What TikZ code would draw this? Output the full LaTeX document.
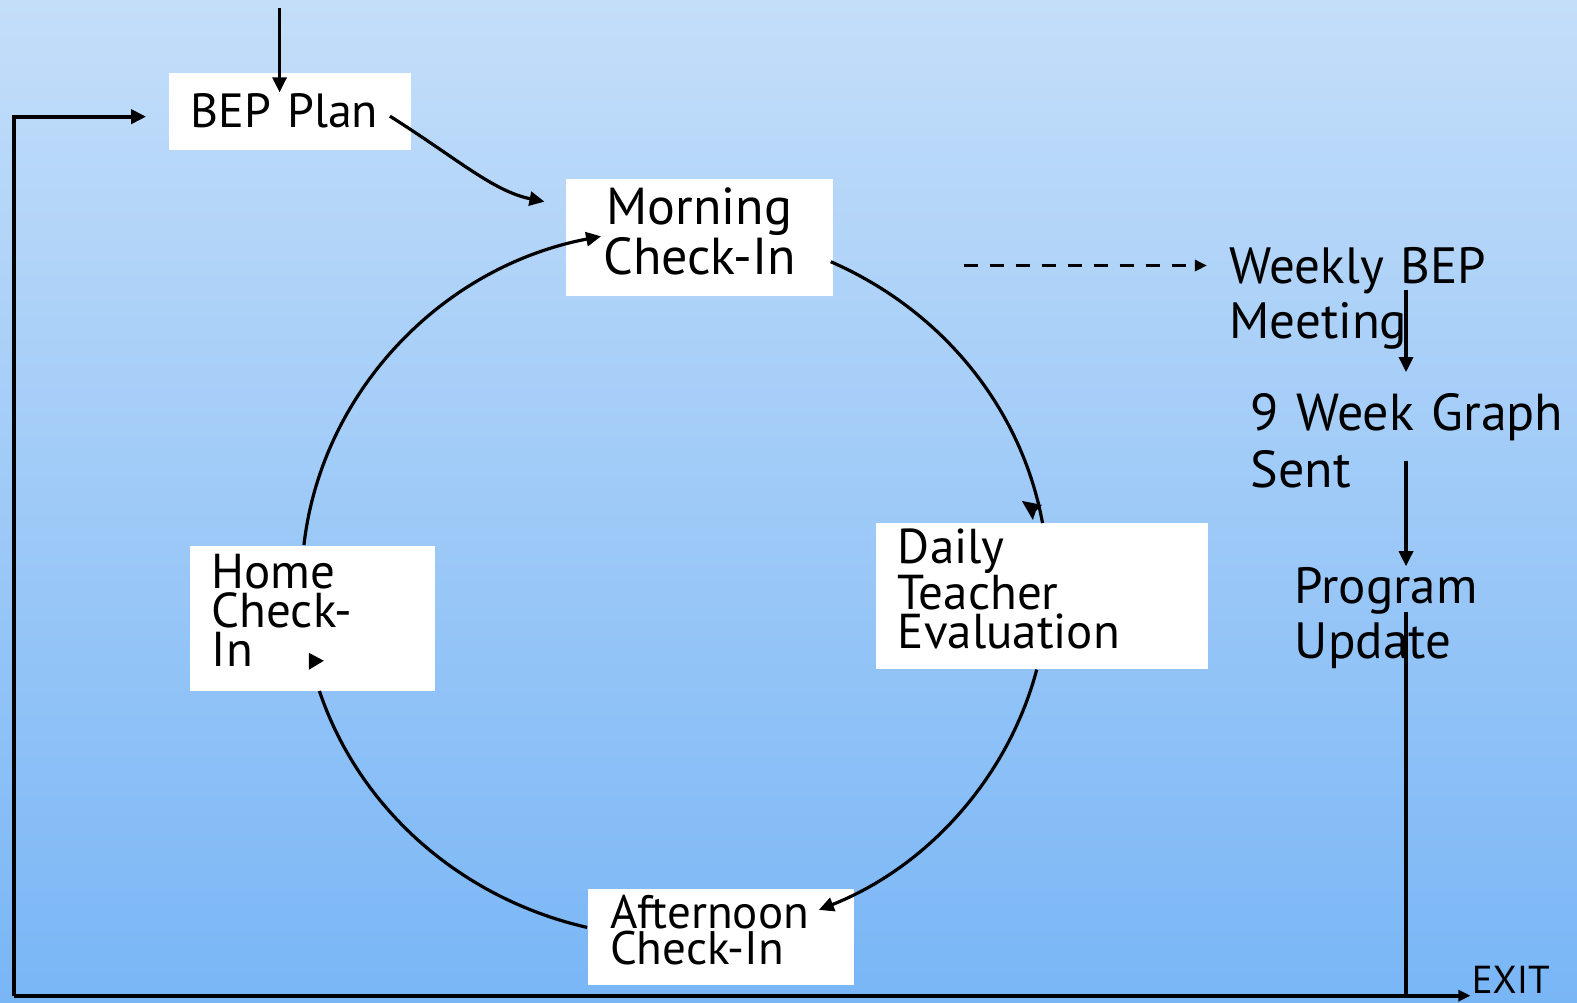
\documentclass[tikz,border=0pt]{standalone}
\usepackage{fontspec}
\setmainfont{PT Sans}
\usetikzlibrary{arrows.meta,calc}
\definecolor{skytop}{RGB}{196,222,249}
\definecolor{skybot}{RGB}{121,182,246}
% invisible strut that lifts a box's text block by #1
\newcommand{\liftby}[1]{\rule[-#1]{0pt}{0pt}}
\begin{document}
\begin{tikzpicture}[x=0.5029pt,y=-0.5029pt,
  flow/.style={line width=1.6pt},
  loop/.style={line width=1.9pt, line join=miter},
  tip/.style={-{Triangle[length=7.5pt,width=7pt]}},
  smalltip/.style={-{Triangle[length=6pt,width=5.5pt]}},
  box/.style={fill=white, inner sep=0pt, align=left},
  freelabel/.style={inner sep=0pt, align=left, anchor=base west, text width=170pt},
]
% background
\shade[top color=skytop, bottom color=skybot] (0,0) rectangle (1568,997);
\useasboundingbox (0,0) rectangle (1568,997);

% boxes
\node[box, minimum width=121pt, minimum height=38.5pt, text width=99pt,
      font=\fontsize{24}{21}\selectfont] (bep) at (288,110.5) {BEP Plan};
\node[box, align=center, minimum width=133.5pt, minimum height=58.5pt, text width=120pt,
      font=\fontsize{26}{21.5}\selectfont] (morning) at (695.5,236.5) {Morning\\Check-In\liftby{7pt}};
\node[box, minimum width=166pt, minimum height=73pt, text width=144pt,
      font=\fontsize{24.5}{19.5}\selectfont] (daily) at (1036,593) {Daily\\Teacher\\Evaluation\liftby{8pt}};
\node[box, minimum width=122.5pt, minimum height=72.5pt, text width=100.5pt,
      font=\fontsize{24.5}{19.5}\selectfont] (home) at (310.5,614.5) {Home\\Check-\\In\liftby{8pt}};
\node[box, minimum width=133pt, minimum height=48pt, text width=111pt,
      font=\fontsize{23.5}{17}\selectfont] (afternoon) at (717,932) {Afternoon\\Check-In\liftby{8pt}};

% free labels
\node[freelabel, font=\fontsize{25.5}{27.5}\selectfont] (weekly) at (1222,282) {Weekly BEP\\Meeting};
\node[freelabel, font=\fontsize{26}{28.5}\selectfont] (graph) at (1243,428) {9 Week Graph\\Sent};
\node[freelabel, font=\fontsize{25.5}{27.5}\selectfont] (program) at (1287,600) {Program\\Update};
\node[freelabel, font=\fontsize{19.5}{20}\selectfont] (exit) at (1463,988) {EXIT};

% cycle
\coordinate (c) at (671,580);
\draw[flow,tip] (c) ++(186.2:371 and 352) arc[start angle=186.2, end angle=258.6, x radius=371, y radius=352];
\draw[flow] (c) ++(294.7:371 and 352) arc[start angle=294.7, end angle=350.2, x radius=371, y radius=352];
\draw[flow,tip] (c) ++(14.1:371 and 352) arc[start angle=14.1, end angle=67.3, x radius=371, y radius=352];
\draw[flow] (c) ++(103.6:371 and 352) arc[start angle=103.6, end angle=162.3, x radius=371, y radius=352];

% loose arrow tips
\fill (1016,498) -- (1036,502) -- (1030,508) -- (1027,517) -- cycle;
\fill (307,649) -- (322,657) -- (307,666) -- cycle;

% entry and plan arrows
\coordinate (entry) at (278,8);
\draw[flow,tip] (entry) -- ($(bep.north)+(-10,20)$);
\draw[flow,tip] ($(bep.east)+(-21,5)$) .. controls (455,158) and (490,190) .. ($(morning.west)+(-21,-36)$);

% weekly review chain
\coordinate (dashstart) at (958,264);
\draw[flow,dashed,dash pattern=on 7pt off 6pt,smalltip] (dashstart) -- ($(weekly.base west)+(-22,-18)$);
\draw[flow,tip] ($(weekly.base west)+(176,6)$) -- ($(graph.base west)+(155,-58)$);
\draw[flow,tip] ($(graph.base west)+(155,30)$) -- ($(program.base west)+(111,-37)$);

% exit and return loop
\coordinate (corner) at (14,990);
\coordinate (drop) at (1398,990);
\draw[flow] ($(program.base west)+(111,8)$) -- (drop);
\draw[loop,smalltip] (corner) -- ($(exit.base west)+(-1,2)$);
\draw[loop,tip] (corner) |- ($(bep.west)+(-22,5.5)$);
\end{tikzpicture}
\end{document}
